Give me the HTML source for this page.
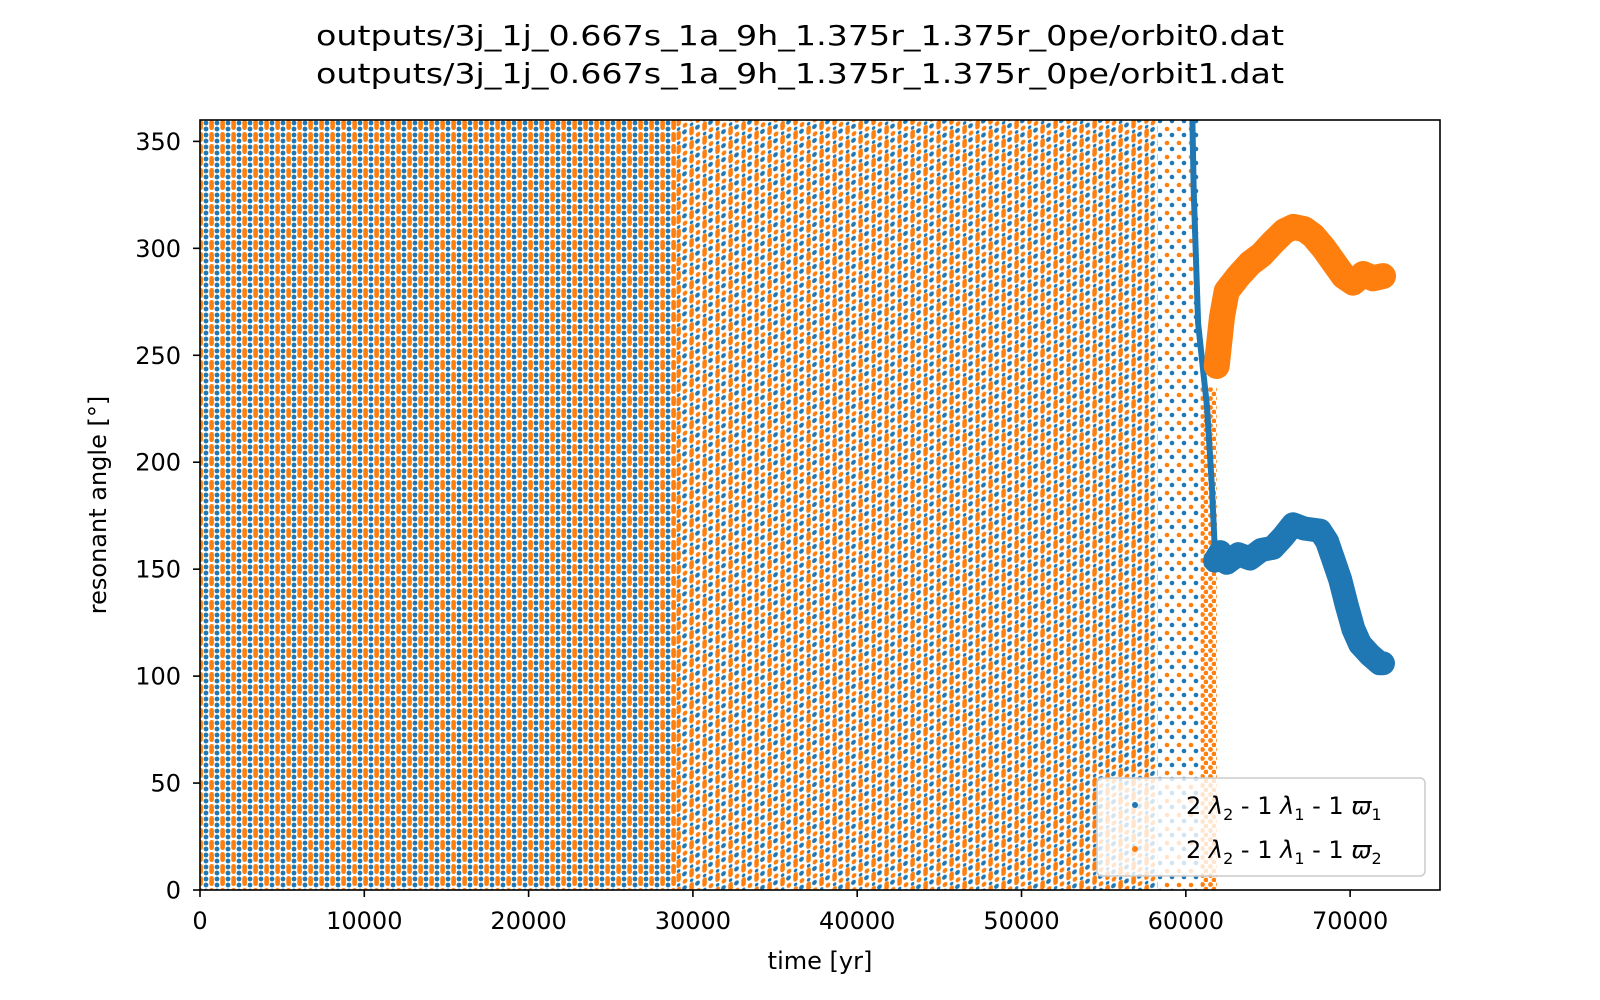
<!DOCTYPE html>
<html><head><meta charset="utf-8"><style>
html,body{margin:0;padding:0;background:#fff;}
svg{display:block;font-family:"DejaVu Sans","Liberation Sans",sans-serif;}
</style></head><body>
<svg id="chart" width="1600" height="1000" viewBox="0 0 1600 1000" xmlns="http://www.w3.org/2000/svg">
<defs>
<pattern id="dense" width="11" height="12" patternUnits="userSpaceOnUse">
<rect x="0" y="0" width="11" height="12" fill="#fff"/>
<rect x="0.3" y="0" width="4.6" height="10" rx="2.3" fill="#ff7f0e"/>
<circle cx="8" cy="3" r="2.4" fill="#1f77b4"/>
<circle cx="8" cy="9" r="2.4" fill="#1f77b4"/>
</pattern>
<pattern id="wavy" width="13" height="14" patternUnits="userSpaceOnUse" patternTransform="skewY(-20)">
<rect x="0" y="0" width="13" height="14" fill="#fff"/>
<rect x="0.3" y="0" width="4.6" height="9" rx="2.3" fill="#ff7f0e"/>
<circle cx="8.5" cy="3" r="2.4" fill="#1f77b4"/>
<circle cx="9" cy="10.5" r="2.4" fill="#ff7f0e"/>
<circle cx="2.6" cy="12" r="1.8" fill="#1f77b4"/>
</pattern>
<pattern id="sparse" width="12" height="14" patternUnits="userSpaceOnUse">
<rect x="0" y="0" width="12" height="14" fill="#fff"/>
<circle cx="3" cy="3" r="2.3" fill="#ff7f0e"/>
<circle cx="8" cy="9" r="2.3" fill="#1f77b4"/>
</pattern>
<pattern id="orangeedge" width="8" height="9" patternUnits="userSpaceOnUse">
<rect x="0" y="0" width="8" height="9" fill="#fff"/>
<circle cx="2.5" cy="2.5" r="2.4" fill="#ff7f0e"/>
<circle cx="6" cy="7" r="2.4" fill="#ff7f0e"/>
</pattern>
<clipPath id="plotclip"><rect x="200" y="120" width="1240" height="770"/></clipPath>
</defs>
<g id="title">
<text x="800" y="45" text-anchor="middle" font-size="28" textLength="968" lengthAdjust="spacingAndGlyphs">outputs/3j_1j_0.667s_1a_9h_1.375r_1.375r_0pe/orbit0.dat</text>
<text x="800" y="83" text-anchor="middle" font-size="28" textLength="968" lengthAdjust="spacingAndGlyphs">outputs/3j_1j_0.667s_1a_9h_1.375r_1.375r_0pe/orbit1.dat</text>
</g>
<g id="marks" clip-path="url(#plotclip)"></g>
<g id="axes"></g>
</svg>
<script>
// Chart data
const xTicks = [0, 10000, 20000, 30000, 40000, 50000, 60000, 70000];
const yTicks = [0, 50, 100, 150, 200, 250, 300, 350];
// dense chaotic regions
const regionStarts = [0, 29000, 58300, 60900];
const regionEnds = [29000, 58300, 60900, 61900];
const regionLow = [0, 0, 0, 0];
const regionHigh = [360, 360, 360, 235];
const regionStyles = ['dense', 'wavy', 'sparse', 'orangeedge'];
// orbit1 (orange) regular track after capture
const orangeT = [61880, 62200, 62490, 63200, 63910, 64600, 65330, 66000, 66540, 67200, 67740, 68400, 68960, 69600, 70180, 70800, 71400, 72000];
const orangeA = [245, 268, 280, 287, 293, 297, 303, 308, 310, 309, 306, 300, 294, 287, 284, 288, 286, 287];
// orbit0 (blue) descending line and regular track
const blueLineT = [60400, 60480, 60750, 61290, 61600, 61780];
const blueLineA = [360, 327, 265, 226, 187, 156];
const blueT = [61780, 62100, 62490, 63200, 63900, 64600, 65300, 65900, 66530, 67200, 68170, 68600, 68960, 69400, 69800, 70200, 70600, 71200, 71800, 72000];
const blueA = [154, 158, 153, 157, 155, 159, 160, 165, 171, 169, 168, 163, 155, 145, 133, 122, 115, 110, 106, 106];

const X0 = 200, X1 = 1440, Y0 = 890, Y1 = 120;
const XMAX = 75470, YMAX = 360;
function sx(t){ return X0 + (t / XMAX) * (X1 - X0); }
function sy(a){ return Y0 - (a / YMAX) * (Y0 - Y1); }
const NS = 'http://www.w3.org/2000/svg';
function mk(tag, attrs, parent){
  const e = document.createElementNS(NS, tag);
  for (const k in attrs) e.setAttribute(k, attrs[k]);
  parent.appendChild(e);
  return e;
}
const marks = document.getElementById('marks');
const axes = document.getElementById('axes');

regionStarts.forEach((s, i) => {
  const r = mk('rect', {x: sx(s), y: sy(regionHigh[i]), width: sx(regionEnds[i]) - sx(s), height: sy(regionLow[i]) - sy(regionHigh[i]), fill: 'url(#' + regionStyles[i] + ')'}, marks);
  
  
});

function track(ts, as, color, w, name){
  const pts = ts.map((t, i) => sx(t).toFixed(1) + ',' + sy(as[i]).toFixed(1)).join(' ');
  const p = mk('polyline', {points: pts, fill: 'none', stroke: color, 'stroke-width': w, 'stroke-linejoin': 'round', 'stroke-linecap': 'round'}, marks);
  
  
}
track(blueLineT, blueLineA, '#1f77b4', 6, 'orbit0-descending-line');
track(orangeT, orangeA, '#ff7f0e', 26, 'orbit1-track');
track(blueT, blueA, '#1f77b4', 24, 'orbit0-track');

// frame
const frame = mk('rect', {x: X0, y: Y1, width: X1 - X0, height: Y0 - Y1, fill: 'none', stroke: '#000', 'stroke-width': 1.6}, axes);



xTicks.forEach(v => {
  const x = sx(v);
  const l = mk('line', {x1: x, y1: Y0, x2: x, y2: Y0 + 7, stroke: '#000', 'stroke-width': 1.6}, axes);
  
  
  const t = mk('text', {x: x, y: 929, 'text-anchor': 'middle', 'font-size': 24}, axes);
  t.textContent = String(v);
  
  
});
yTicks.forEach(v => {
  const y = sy(v);
  const l = mk('line', {x1: X0 - 7, y1: y, x2: X0, y2: y, stroke: '#000', 'stroke-width': 1.6}, axes);
  
  
  const t = mk('text', {x: 181, y: y + 8.5, 'text-anchor': 'end', 'font-size': 24}, axes);
  t.textContent = String(v);
  
  
});
const xl = mk('text', {x: 820, y: 969, 'text-anchor': 'middle', 'font-size': 24}, axes);
xl.textContent = 'time [yr]';


const yl = mk('text', {x: 0, y: 0, 'text-anchor': 'middle', 'font-size': 24, transform: 'translate(106,505) rotate(-90)'}, axes);
yl.textContent = 'resonant angle [\u00B0]';



// legend
const lg = mk('g', {}, axes);


mk('rect', {x: 1097, y: 778, width: 328, height: 98, rx: 5, fill: '#fff', 'fill-opacity': 0.8, stroke: '#ccc', 'stroke-width': 1.5}, lg);
const labels = [['#1f77b4', '1'], ['#ff7f0e', '2']];
labels.forEach((lb, i) => {
  const y = 805 + i * 44;
  const e = mk('g', {}, lg);
  
  
  mk('circle', {cx: 1135, cy: y, r: 3, fill: lb[0]}, e);
  const t = mk('text', {x: 1186, y: y + 9, 'font-size': 24}, e);
  t.innerHTML = '2 <tspan font-style="italic">λ</tspan><tspan font-size="16" dy="6">2</tspan><tspan dy="-6"> - 1 </tspan><tspan font-style="italic">λ</tspan><tspan font-size="16" dy="6">1</tspan><tspan dy="-6"> - 1 </tspan><tspan font-style="italic">ϖ</tspan><tspan font-size="16" dy="6">' + lb[1] + '</tspan>';
});
</script>
</body></html>
